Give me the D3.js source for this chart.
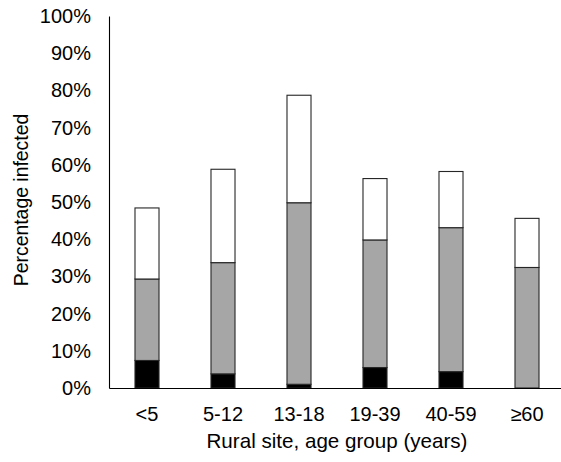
<!DOCTYPE html>
<html>
<head>
<meta charset="utf-8">
<script src="https://cdn.jsdelivr.net/npm/d3@7"></script>
<style>
  html, body { margin: 0; padding: 0; background: #fff; }
  svg { display: block; }
  text { font-family: "Liberation Sans", Arial, sans-serif; fill: #000; }
</style>
</head>
<body>
<svg id="chart" width="561" height="462"></svg>
<script>
const categories = ["<5", "5-12", "13-18", "19-39", "40-59", "\u226560"];
const blackSeg = [7.4, 3.8, 1.0, 5.5, 4.4, 0];
const graySeg  = [21.9, 29.9, 48.8, 34.3, 38.7, 32.4];
const whiteSeg = [19.1, 25.1, 28.9, 16.5, 15.1, 13.2];
const yTicks = [0, 10, 20, 30, 40, 50, 60, 70, 80, 90, 100];
const seriesKeys = ["black", "gray", "white"];
const seriesFill = { black: "#000000", gray: "#a6a6a6", white: "#ffffff" };

(function () {
const rows = categories.map((c, i) => ({ cat: c, black: blackSeg[i], gray: graySeg[i], white: whiteSeg[i] }));

const svg = d3.select("#chart");
const mLeft = 109, mRight = 565, mTop = 16, mBottom = 388;

const x = d3.scaleBand().domain(categories).range([mLeft, mRight]).paddingInner(0.684).paddingOuter(0.342);
const y = d3.scaleLinear().domain([0, 100]).range([mBottom, mTop]);

const stack = d3.stack().keys(seriesKeys)(rows);

svg.append("g").selectAll("g")
  .data(stack).join("g")
  .attr("fill", d => seriesFill[d.key])
  .selectAll("rect")
  .data(d => d.filter(s => s[1] - s[0] > 0))
  .join("rect")
  .attr("x", d => x(d.data.cat))
  .attr("width", x.bandwidth())
  .attr("y", d => y(d[1]))
  .attr("height", d => y(d[0]) - y(d[1]))
  .attr("stroke", "#262626")
  .attr("stroke-width", 1.1);

// y axis
const yAxis = svg.append("g").attr("transform", `translate(${mLeft},0)`)
  .call(d3.axisLeft(y).tickValues(yTicks).tickSize(0).tickPadding(18).tickFormat(d => d + "%"));
yAxis.select(".domain").attr("stroke", "#000").attr("stroke-width", 1.1);
yAxis.selectAll("text").attr("font-size", 20).attr("font-family", "Liberation Sans, Arial, sans-serif").attr("fill", "#000");

// x axis
const xAxis = svg.append("g").attr("transform", `translate(0,${mBottom})`)
  .call(d3.axisBottom(x).tickSize(0).tickPadding(19));
xAxis.select(".domain").attr("stroke", "#000").attr("stroke-width", 1.1);
xAxis.selectAll("text").attr("font-size", 20).attr("font-family", "Liberation Sans, Arial, sans-serif").attr("fill", "#000");

svg.append("text")
  .attr("x", 337).attr("y", 448)
  .attr("text-anchor", "middle").attr("font-size", 20.6)
  .text("Rural site, age group (years)");

svg.append("text")
  .attr("transform", "translate(28,200) rotate(-90)")
  .attr("text-anchor", "middle").attr("font-size", 19.4)
  .text("Percentage infected");
})();
</script>
</body>
</html>
